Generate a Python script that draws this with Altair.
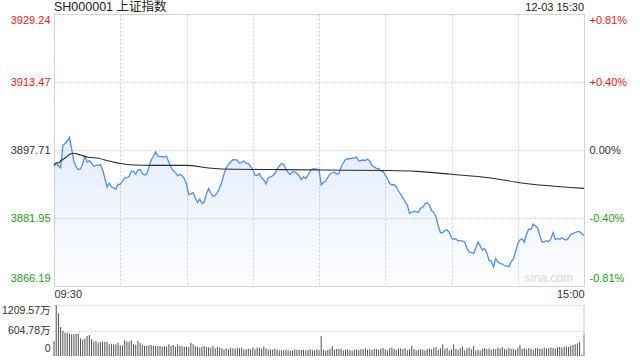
import altair as alt
import pandas as pd

FONT = "Liberation Sans, Arial, Noto Sans CJK SC, sans-serif"
RED = "#f01818"
GREEN = "#1c9e1c"
DARK = "#333333"

prev_close = 3897.71
price_ticks = [3866.19, 3881.95, 3897.71, 3913.47, 3929.24]
vol_ticks = [0, 604.78, 1209.57]
time_ticks = [0, 30, 60, 90, 120, 150, 180, 210, 240]
title_label = ["SH000001 上证指数"]
date_label = ["12-03 15:30"]
mark_label = ["sina.com"]

price = [
    3894.00, 3894.63, 3894.00, 3893.54, 3898.80, 3899.22, 3899.80, 3900.66, 3897.95, 3895.16,
    3893.77, 3893.19, 3893.31, 3894.58, 3896.21, 3894.93, 3895.28, 3894.70, 3893.89, 3894.17,
    3894.17, 3894.35, 3893.07, 3891.22, 3889.14, 3890.06, 3889.18, 3888.95, 3888.67, 3889.83,
    3889.71, 3890.53, 3891.22, 3891.29, 3891.57, 3892.84, 3892.84, 3892.08, 3893.07, 3893.19,
    3892.26, 3891.91, 3892.15, 3893.77, 3895.39, 3896.21, 3897.25, 3896.32, 3896.16, 3896.16,
    3896.09, 3896.32, 3894.81, 3893.66, 3892.91, 3892.47, 3891.73, 3892.08, 3891.75, 3891.10,
    3889.83, 3887.40, 3887.51, 3887.86, 3886.59, 3885.54, 3886.35, 3885.31, 3885.66, 3887.51,
    3888.79, 3887.74, 3887.00, 3887.16, 3887.86, 3888.90, 3890.29, 3892.15, 3893.56, 3894.35,
    3894.93, 3895.46, 3895.44, 3895.39, 3894.63, 3894.81, 3895.16, 3894.65, 3894.58, 3893.89,
    3893.19, 3891.91, 3891.80, 3892.26, 3891.27, 3890.76, 3889.83, 3891.22, 3891.52, 3891.68,
    3892.26, 3893.19, 3894.05, 3894.60, 3894.35, 3893.26, 3892.54, 3892.03, 3892.70, 3892.66,
    3892.26, 3891.75, 3890.87, 3891.52, 3891.08, 3891.91, 3892.84, 3893.31, 3893.31, 3893.26,
    3893.24, 3889.60, 3890.18, 3890.53, 3891.34, 3892.15, 3892.38, 3892.57, 3892.08, 3892.26,
    3893.77, 3894.70, 3895.51, 3895.69, 3895.69, 3895.81, 3895.86, 3896.09, 3895.16, 3895.28,
    3895.39, 3895.28, 3895.62, 3895.05, 3894.12, 3893.84, 3893.42, 3893.38, 3892.84, 3892.77,
    3891.91, 3891.10, 3889.94, 3889.66, 3889.66, 3889.20, 3888.21, 3887.40, 3886.70, 3885.66,
    3884.96, 3882.99, 3883.34, 3883.50, 3883.41, 3883.22, 3884.27, 3884.38, 3885.26, 3885.47,
    3884.96, 3883.69, 3883.22, 3882.18, 3880.10, 3878.54, 3878.59, 3879.05, 3879.17, 3878.63,
    3877.31, 3877.08, 3877.08, 3876.62, 3876.78, 3876.62, 3876.39, 3874.88, 3874.07, 3873.95,
    3873.72, 3875.00, 3876.43, 3875.46, 3874.53, 3874.88, 3873.91, 3872.10, 3871.98, 3870.59,
    3872.56, 3871.80, 3871.36, 3871.33, 3870.94, 3870.82, 3870.66, 3871.87, 3872.33, 3874.14,
    3876.04, 3876.85, 3877.08, 3876.39, 3878.24, 3879.40, 3879.28, 3880.56, 3880.10, 3879.75,
    3877.78, 3876.39, 3876.43, 3876.69, 3876.46, 3877.08, 3878.59, 3876.97, 3877.20, 3877.01,
    3877.36, 3876.97, 3876.85, 3877.31, 3878.13, 3878.31, 3878.59, 3878.78, 3878.78, 3878.29,
    3877.90,
]

avg_minutes = [0, 1, 2, 3, 5, 7, 9, 12, 15, 20, 25, 30, 36, 45, 60, 70, 82, 100, 123, 150,
               164, 180, 197, 211, 240]
avg_price = [3894.23, 3894.77, 3894.70, 3895.16, 3895.86, 3896.67, 3896.95, 3896.55, 3896.09,
             3895.79, 3895.16, 3894.58, 3894.23, 3894.16, 3894.16, 3893.54, 3893.24, 3893.19,
             3893.07, 3892.96, 3892.77, 3892.08, 3891.29, 3890.13, 3888.83]

vol_morning = [
    356, 1205, 1012, 688, 593, 553, 553, 530, 514, 514,
    530, 530, 419, 387, 419, 474, 498, 395, 340, 356,
    316, 332, 340, 332, 332, 277, 293, 277, 277, 308,
    253, 253, 372, 340, 340, 372, 277, 261, 356, 308,
    261, 237, 237, 253, 261, 237, 237, 229, 237, 221,
    237, 221, 277, 237, 261, 213, 277, 237, 237, 221,
    221, 213, 316, 277, 229, 221, 198, 221, 237, 213,
    206, 198, 237, 182, 213, 198, 182, 158, 182, 158,
    198, 182, 174, 198, 182, 198, 158, 158, 174, 158,
    198, 158, 198, 198, 174, 221, 182, 150, 158, 150,
    174, 150, 134, 134, 134, 150, 134, 126, 126, 158,
    150, 142, 142, 150, 134, 142, 158, 134, 134, 158,
    142,
]
vol_afternoon = [
    474, 150, 126, 142, 166, 237, 150, 166, 166, 174,
    134, 150, 158, 142, 126, 150, 158, 142, 166, 158,
    182, 150, 158, 142, 174, 166, 150, 174, 190, 158,
    134, 182, 198, 166, 142, 174, 182, 166, 182, 134,
    158, 237, 166, 134, 142, 158, 150, 134, 166, 174,
    158, 198, 213, 150, 182, 277, 166, 190, 134, 158,
    277, 166, 150, 182, 221, 134, 182, 198, 158, 237,
    126, 142, 126, 174, 190, 166, 182, 150, 174, 158,
    198, 174, 213, 166, 158, 190, 166, 174, 150, 198,
    261, 174, 182, 158, 190, 174, 150, 182, 190, 166,
    174, 198, 174, 182, 206, 190, 174, 206, 213, 198,
    221, 229, 213, 245, 261, 277, 300, 332, 40, 514,
]
volume = vol_morning + vol_afternoon

df = pd.DataFrame({"m": list(range(len(price))), "price": price, "vol": volume})
avg_df = pd.DataFrame({"m": avg_minutes, "price": avg_price})
title_df = pd.DataFrame({"m": [time_ticks[0]], "price": [price_ticks[-1]], "label": title_label})
date_df = pd.DataFrame({"m": [time_ticks[-1]], "price": [price_ticks[-1]], "label": date_label})
mark_df = pd.DataFrame({"m": [time_ticks[-1]], "price": [price_ticks[0]], "label": mark_label})
edge_df = pd.DataFrame({"m": [time_ticks[-1]], "vol": [vol_ticks[-1]], "lo": [vol_ticks[0]]})

xscale = alt.Scale(domain=[time_ticks[0], time_ticks[-1]], nice=False, zero=False)
yscale = alt.Scale(domain=[price_ticks[0], price_ticks[-1]], nice=False, zero=False)
vscale = alt.Scale(domain=[vol_ticks[0], vol_ticks[-1]], nice=False, zero=True)

price_color = {
    "condition": [
        {"test": f"datum.value > {prev_close + 0.01}", "value": RED},
        {"test": f"datum.value < {prev_close - 0.01}", "value": GREEN},
    ],
    "value": DARK,
}
bottom_shift = {"condition": {"test": f"datum.value < {price_ticks[0] + 1}", "value": -3}, "value": 0}

x_axis = alt.Axis(
    values=time_ticks,
    labelExpr="datum.value == 0 ? '09:30' : datum.value == 240 ? '15:00' : ''",
    grid=True, gridDash=[2, 2], gridColor="#cfcfcf", domain=False, ticks=False,
    labelFlush=True, labelPadding=2, labelFontSize=11, labelColor=DARK, title=None,
    labelFont=FONT, labelOverlap=False,
)
y_axis = alt.Axis(
    values=price_ticks, format=".2f",
    grid=True, gridDash=[2, 2], gridColor="#cfcfcf", domain=False, ticks=False,
    labelFlush=True, labelPadding=4, labelFontSize=11, labelColor=price_color,
    labelOffset=bottom_shift, title=None, labelFont=FONT, labelOverlap=False,
)
pct_axis = alt.Axis(
    orient="right", values=price_ticks,
    labelExpr=(f"(datum.value > {prev_close + 0.01} ? '+' : datum.value < {prev_close - 0.01} ? '-' : '')"
               f" + format(abs(datum.value - {prev_close}) / {prev_close} * 100, '.2f') + '%'"),
    grid=False, domain=False, ticks=False, labelFlush=True, labelPadding=5,
    labelFontSize=11, labelColor=price_color, labelOffset=bottom_shift,
    title=None, labelFont=FONT, labelOverlap=False,
)

X = alt.X("m:Q", scale=xscale, axis=x_axis)
Y = alt.Y("price:Q", scale=yscale, axis=y_axis)

area = alt.Chart(df).mark_area(
    color=alt.Gradient(
        gradient="linear",
        stops=[alt.GradientStop(color="rgba(90,140,240,0.16)", offset=0),
               alt.GradientStop(color="rgba(90,140,240,0.01)", offset=1)],
        x1=1, x2=1, y1=0, y2=1,
    )
).encode(x=X, y=Y, y2=alt.datum(price_ticks[0]))

line = alt.Chart(df).mark_line(color="#4f8ef2", strokeWidth=1.3).encode(x=X, y=Y)

avg = alt.Chart(avg_df).mark_line(color="#2b2b2b", strokeWidth=1.1, interpolate="monotone").encode(x=X, y=Y)

title_t = alt.Chart(title_df).mark_text(
    align="left", baseline="alphabetic", dy=-3, fontSize=12.5, color="#222", font=FONT
).encode(x=X, y=Y, text="label:N")

date_t = alt.Chart(date_df).mark_text(
    align="right", baseline="alphabetic", dy=-3, fontSize=11, color="#222", font=FONT
).encode(x=X, y=Y, text="label:N")

mark_t = alt.Chart(mark_df).mark_text(
    align="right", baseline="alphabetic", dx=-11, dy=-4, fontSize=12, color="#d8d8d8", font=FONT
).encode(x=X, y=Y, text="label:N")

inner = alt.layer(area, line, avg, mark_t, title_t, date_t)

right = alt.Chart(df).mark_line(opacity=0).encode(
    x=X,
    y=alt.Y("price:Q", scale=yscale, axis=pct_axis),
)

main = alt.layer(inner, right).resolve_scale(y="independent").properties(width=530, height=272)

vol_axis = alt.Axis(
    values=vol_ticks,
    labelExpr="datum.value == 0 ? '0' : format(datum.value, '.2f') + '万'",
    grid=True, gridDash=[2, 2],
    gridColor={"condition": {"test": "datum.value == 0", "value": "transparent"}, "value": "#cfcfcf"},
    domain=False, ticks=False, labelFlush=True, labelPadding=4, labelFontSize=10.5,
    labelColor=DARK, title=None, labelFont=FONT, labelOverlap=False,
    labelOffset={"condition": {"test": "datum.value == 0", "value": -3}, "value": 0},
)

VX = alt.X("m:Q", scale=xscale, axis=None)
VY = alt.Y("vol:Q", scale=vscale, axis=vol_axis)

bars = alt.Chart(df).mark_rule(color="#505050", strokeWidth=1).encode(
    x=VX, y=VY, y2=alt.datum(0),
)
edge = alt.Chart(edge_df).mark_rule(color="#cccccc", strokeWidth=1).encode(
    x=VX, y=VY, y2="lo:Q",
)
vol = alt.layer(bars, edge).properties(
    width=530, height=51, view=alt.ViewBackground(stroke="transparent")
)

chart = alt.vconcat(main, vol, spacing=19, bounds="flush").properties(
    padding={"left": 1, "top": 0, "right": 5, "bottom": 5},
    background="white",
).configure_view(stroke="#cccccc", strokeWidth=1).configure(font=FONT)

chart.save("out.html", embed_options={"renderer": "svg", "actions": False})
